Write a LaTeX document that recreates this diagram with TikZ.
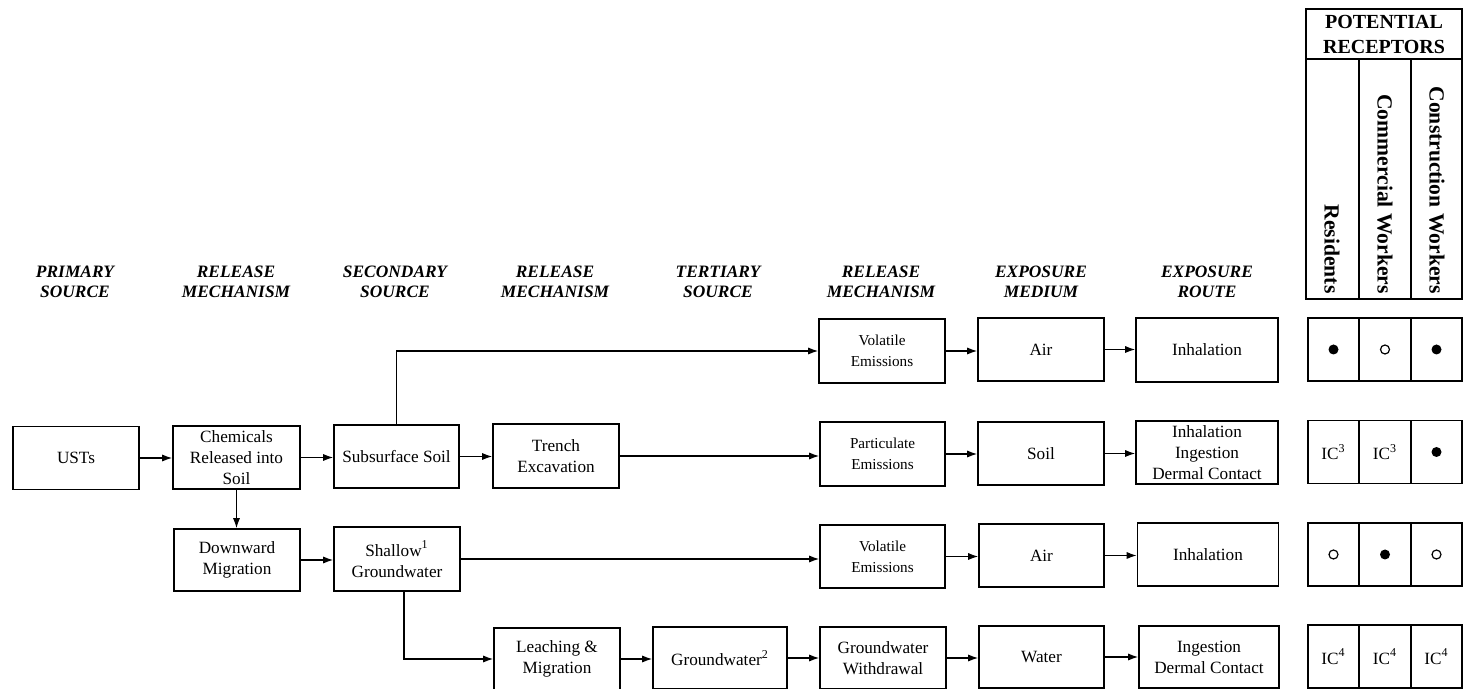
\documentclass[tikz,border=0pt]{standalone}
\usepackage{fontspec}
\setmainfont{Liberation Serif}
\usetikzlibrary{arrows.meta}
\begin{document}
\begin{tikzpicture}[x=0.5pt,y=-0.5pt,
 bx/.style={draw,line width=0.9pt,inner sep=1pt,align=center,font=\fontsize{8.6}{10.5}\selectfont},
 sm/.style={font=\fontsize{7.6}{10.5}\selectfont},
 hd/.style={align=center,font=\fontsize{8.7}{10}\bfseries\itshape\selectfont},
 arr/.style={line width=0.6pt,-{Latex[length=5pt,width=3.6pt]}},
 cell/.style={draw,line width=0.9pt,minimum height=31.5pt,inner sep=0pt,font=\fontsize{8.6}{10}\selectfont},
 vt/.style={rotate=-90,anchor=east,inner sep=1pt,font=\fontsize{10.8}{12}\bfseries\selectfont},
 dotf/.style={circle,fill,inner sep=0pt,minimum size=5pt},
 doto/.style={circle,draw,line width=0.6pt,inner sep=0pt,minimum size=4.5pt}]
\useasboundingbox (0,0) rectangle (1464,689);

% column headings
\node[hd] (h1) at (75,282) {PRIMARY\\SOURCE};
\node[hd] (h2) at (236,282) {RELEASE\\MECHANISM};
\node[hd] (h3) at (395,282) {SECONDARY\\SOURCE};
\node[hd] (h4) at (555,282) {RELEASE\\MECHANISM};
\node[hd] (h5) at (718,282) {TERTIARY\\SOURCE};
\node[hd] (h6) at (881,282) {RELEASE\\MECHANISM};
\node[hd] (h7) at (1041,282) {EXPOSURE\\MEDIUM};
\node[hd] (h8) at (1207,282) {EXPOSURE\\ROUTE};

% boxes
\node[bx,minimum width=63pt,minimum height=31.5pt] (ust) at (76,458) {USTs};
\node[bx,minimum width=63.5pt,minimum height=31.5pt] (chem) at (236.5,457.5) {Chemicals\\Released into\\Soil};
\node[bx,minimum width=62.5pt,minimum height=31.5pt] (ss) at (396.5,456.5) {Subsurface Soil};
\node[bx,minimum width=63pt,minimum height=31pt] (dm) at (237,560) {Downward\\Migration};
\node[bx,minimum width=63pt,minimum height=32pt] (sg) at (397,559) {Shallow\textsuperscript{1}\\Groundwater};
\node[bx,minimum width=63pt,minimum height=32pt] (tr) at (556,456) {Trench\\Excavation};
\node[bx,sm,minimum width=63pt,minimum height=32pt] (ve1) at (882,351) {Volatile\\Emissions};
\node[bx,sm,minimum width=62.5pt,minimum height=32pt] (pe) at (882.5,454) {Particulate\\Emissions};
\node[bx,sm,minimum width=62.5pt,minimum height=31.5pt] (ve2) at (882.5,556.5) {Volatile\\Emissions};
\node[bx,minimum width=63pt,minimum height=31pt] (lm) at (557,659) {Leaching \&\\Migration};
\node[bx,minimum width=67pt,minimum height=31pt] (gw) at (720,658) {Groundwater\textsuperscript{2}};
\node[bx,minimum width=63pt,minimum height=31pt] (gww) at (883,658) {Groundwater\\Withdrawal};
\node[bx,minimum width=63pt,minimum height=31.5pt] (air1) at (1041,349.5) {Air};
\node[bx,minimum width=63pt,minimum height=31.5pt] (soil) at (1041,453.5) {Soil};
\node[bx,minimum width=62.5pt,minimum height=31.5pt] (air2) at (1041.5,555.5) {Air};
\node[bx,minimum width=62.5pt,minimum height=31pt] (water) at (1041.5,657) {Water};
\node[bx,minimum width=71pt,minimum height=32pt] (inh1) at (1207,350) {Inhalation};
\node[bx,minimum width=71pt,minimum height=31.5pt] (ide) at (1207,452.5) {Inhalation\\Ingestion\\Dermal Contact};
\node[bx,minimum width=70.5pt,minimum height=31.5pt] (inh2) at (1208,554.5) {Inhalation};
\node[bx,minimum width=70pt,minimum height=31pt] (ingd) at (1209,657) {Ingestion\\Dermal Contact};

% connectors
\draw[arr] (ust.east) -- (ust.east -| chem.west);
\draw[arr] (chem.east) -- (chem.east -| ss.west);
\draw[arr] (chem.south) -- (chem.south |- dm.north);
\draw[arr] (ss.east) -- (ss.east -| tr.west);
\draw[arr] (ss.north) |- (ve1.west);
\draw[arr] (tr.east) -- (tr.east -| pe.west);
\draw[arr] (dm.east) -- (dm.east -| sg.west);
\draw[arr] (sg.east) -- (sg.east -| ve2.west);
\draw[arr] ([xshift=3.5pt]sg.south) |- (lm.west);
\draw[arr] (lm.east) -- (lm.east -| gw.west);
\draw[arr] (gw.east) -- (gw.east -| gww.west);
\draw[arr] (ve1.east) -- (ve1.east -| air1.west);
\draw[arr] (pe.east) -- (pe.east -| soil.west);
\draw[arr] (ve2.east) -- (ve2.east -| air2.west);
\draw[arr] (gww.east) -- (gww.east -| water.west);
\draw[arr] (air1.east) -- (air1.east -| inh1.west);
\draw[arr] (soil.east) -- (soil.east -| ide.west);
\draw[arr] (air2.east) -- (air2.east -| inh2.west);
\draw[arr] (water.east) -- (water.east -| ingd.west);

% receptors header
\node[draw,line width=0.9pt,minimum width=78pt,minimum height=25pt,inner sep=0pt,align=center,
  font=\fontsize{10}{12.5}\bfseries\selectfont] (rh) at (1384,34) {POTENTIAL\\RECEPTORS};
\node[draw,line width=0.9pt,minimum width=26.5pt,minimum height=120pt,inner sep=0pt] (hc1) at (1332.5,179) {};
\node[draw,line width=0.9pt,minimum width=26pt,minimum height=120pt,inner sep=0pt] (hc2) at (1385,179) {};
\node[draw,line width=0.9pt,minimum width=25.5pt,minimum height=120pt,inner sep=0pt] (hc3) at (1436.5,179) {};
\node[vt] (t1) at (1332,296) {Residents};
\node[vt] (t2) at (1385,296) {Commercial Workers};
\node[vt] (t3) at (1437,296) {Construction Workers};

% receptor cells
\foreach \r/\y in {1/349.5,2/452,3/554.5,4/656.5}{
  \node[cell,minimum width=25.5pt] (c\r a) at (1333.5,\y) {};
  \node[cell,minimum width=26pt] (c\r b) at (1385,\y) {};
  \node[cell,minimum width=25.5pt] (c\r c) at (1436.5,\y) {};
}
\node[dotf] (d1a) at (c1a) {};
\node[doto] (d1b) at (c1b) {};
\node[dotf] (d1c) at (c1c) {};
\node[font=\fontsize{8.6}{10}\selectfont] (d2a) at (c2a) {IC\textsuperscript{3}};
\node[font=\fontsize{8.6}{10}\selectfont] (d2b) at (c2b) {IC\textsuperscript{3}};
\node[dotf] (d2c) at (c2c) {};
\node[doto] (d3a) at (c3a) {};
\node[dotf] (d3b) at (c3b) {};
\node[doto] (d3c) at (c3c) {};
\node[font=\fontsize{8.6}{10}\selectfont] (d4a) at (c4a) {IC\textsuperscript{4}};
\node[font=\fontsize{8.6}{10}\selectfont] (d4b) at (c4b) {IC\textsuperscript{4}};
\node[font=\fontsize{8.6}{10}\selectfont] (d4c) at (c4c) {IC\textsuperscript{4}};
\end{tikzpicture}
\end{document}
